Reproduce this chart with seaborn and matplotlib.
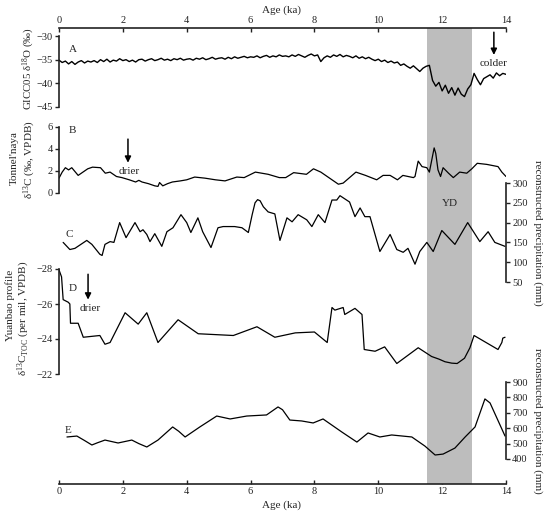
import matplotlib
matplotlib.use("Agg")
import matplotlib.pyplot as plt
import seaborn as sns

# A: GICC05 d18O (permil), 0.1 ka steps
age_a = [0.0, 0.1, 0.2, 0.3, 0.4, 0.5, 0.6, 0.7, 0.8, 0.9,
         1.0, 1.1, 1.2, 1.3, 1.4, 1.5, 1.6, 1.7, 1.8, 1.9,
         2.0, 2.1, 2.2, 2.3, 2.4, 2.5, 2.6, 2.7, 2.8, 2.9,
         3.0, 3.1, 3.2, 3.3, 3.4, 3.5, 3.6, 3.7, 3.8, 3.9,
         4.0, 4.1, 4.2, 4.3, 4.4, 4.5, 4.6, 4.7, 4.8, 4.9,
         5.0, 5.1, 5.2, 5.3, 5.4, 5.5, 5.6, 5.7, 5.8, 5.9,
         6.0, 6.1, 6.2, 6.3, 6.4, 6.5, 6.6, 6.7, 6.8, 6.9,
         7.0, 7.1, 7.2, 7.3, 7.4, 7.5, 7.6, 7.7, 7.8, 7.9,
         8.0, 8.1, 8.2, 8.3, 8.4, 8.5, 8.6, 8.7, 8.8, 8.9,
         9.0, 9.1, 9.2, 9.3, 9.4, 9.5, 9.6, 9.7, 9.8, 9.9,
         10.0, 10.1, 10.2, 10.3, 10.4, 10.5, 10.6, 10.7, 10.8, 10.9,
         11.0, 11.1, 11.2, 11.3, 11.4, 11.5, 11.6, 11.7, 11.8, 11.9,
         12.0, 12.1, 12.2, 12.3, 12.4, 12.5, 12.6, 12.7, 12.8, 12.9,
         13.0, 13.1, 13.2, 13.3, 13.4, 13.5, 13.6, 13.7, 13.8, 13.9, 14.0]
d18o_a = [-35.1, -35.6, -35.3, -35.9, -35.4, -36.0, -35.5, -35.2, -35.7, -35.3,
          -35.5, -35.2, -35.6, -35.0, -35.4, -34.9, -35.5, -35.1, -35.3, -34.8,
          -35.2, -35.0, -35.4, -35.1, -35.5, -35.0, -34.9, -35.3, -35.0, -34.8,
          -35.2, -35.0, -34.7, -35.1, -34.9, -35.2, -34.8, -35.0, -34.7, -35.1,
          -34.9, -34.8, -35.1, -34.7, -34.9, -34.6, -35.0, -34.8, -34.5, -34.9,
          -34.7, -34.6, -34.9, -34.5, -34.8, -34.4, -34.7, -34.5, -34.3, -34.6,
          -34.4, -34.5, -34.2, -34.6, -34.3, -34.1, -34.5, -34.2, -34.4, -34.0,
          -34.3, -34.2, -34.4, -34.0, -34.3, -33.9, -34.2, -34.5, -34.1, -33.8,
          -34.2, -34.0, -35.4, -34.6, -34.2, -34.5, -34.0, -34.3, -33.9, -34.4,
          -34.1, -34.3, -34.6, -34.2, -34.7, -34.4, -34.8, -34.5, -34.9, -35.2,
          -34.9, -35.4, -35.1, -35.6, -35.3, -35.7, -35.5, -36.2, -35.9, -36.4,
          -36.8, -36.3, -36.9, -37.5, -36.8, -36.4, -36.2, -39.4, -40.6, -39.8,
          -41.6, -40.4, -42.1, -40.9, -42.5, -41.0, -42.3, -42.8, -41.2, -40.3,
          -37.9, -39.2, -40.3, -39.0, -38.6, -38.2, -38.9, -37.8, -38.4, -37.9, -38.1]

# B: Tonnel'naya d13C
age_b = [0.0, 0.1, 0.2, 0.3, 0.4, 0.6, 0.9, 1.05, 1.3, 1.45, 1.6, 1.8, 1.97,
         2.2, 2.4, 2.5, 2.6, 2.8, 3.0, 3.1, 3.15, 3.25, 3.4, 3.55, 3.8, 4.0,
         4.25, 4.57, 4.9, 5.2, 5.57, 5.8, 6.15, 6.35, 6.55, 6.9, 7.1, 7.35,
         7.75, 7.97, 8.2, 8.5, 8.75, 8.9, 9.3, 9.6, 9.95, 10.15, 10.37, 10.6,
         10.77, 11.1, 11.15, 11.25, 11.37, 11.52, 11.6, 11.75, 11.8, 11.87,
         11.95, 12.03, 12.2, 12.35, 12.55, 12.77, 12.93, 13.1, 13.4, 13.75,
         13.87, 14.0]
d13c_b = [1.35, 1.9, 2.3, 2.1, 2.3, 1.6, 2.2, 2.35, 2.3, 1.8, 1.9, 1.5, 1.4,
          1.2, 1.0, 1.15, 1.0, 0.85, 0.65, 0.6, 0.95, 0.65, 0.85, 1.0, 1.1, 1.2,
          1.45, 1.35, 1.2, 1.1, 1.45, 1.4, 1.9, 1.8, 1.7, 1.4, 1.4, 1.85,
          1.7, 2.2, 1.9, 1.3, 0.8, 0.9, 1.9, 1.6, 1.2, 1.6, 1.6, 1.2,
          1.6, 1.4, 1.5, 2.9, 2.4, 2.3, 1.9, 4.1, 3.6, 2.1,
          1.5, 2.3, 1.8, 1.4, 1.9, 1.8, 2.2, 2.7, 2.6, 2.4,
          1.9, 1.5]

# C: reconstructed precipitation (mm)
age_c = [0.13, 0.34, 0.5, 0.87, 1.03, 1.28, 1.35, 1.44, 1.6, 1.72, 1.9, 2.1,
         2.38, 2.54, 2.63, 2.75, 2.85, 3.0, 3.22, 3.38, 3.57, 3.82, 4.0, 4.13,
         4.35, 4.5, 4.76, 4.98, 5.14, 5.5, 5.73, 5.93, 6.05, 6.14, 6.22, 6.3,
         6.4, 6.55, 6.76, 6.92, 7.14, 7.3, 7.49, 7.76, 7.92, 8.12, 8.33, 8.55,
         8.7, 8.8, 9.1, 9.27, 9.43, 9.58, 9.74, 10.05, 10.37, 10.58, 10.78,
         10.93, 11.15, 11.3, 11.52, 11.72, 11.99, 12.4, 12.8, 13.18, 13.44,
         13.65, 13.97]
prec_c = [150, 132, 135, 155, 145, 120, 117, 145, 152, 150, 200, 162,
          200, 177, 182, 170, 152, 172, 140, 177, 187, 220, 200, 175,
          212, 177, 137, 187, 190, 190, 187, 175, 220, 250, 258, 255,
          240, 227, 222, 155, 212, 202, 220, 207, 190, 220, 200, 257,
          257, 268, 252, 215, 237, 215, 215, 127, 170, 132, 125,
          135, 95, 127, 150, 127, 180, 145, 200, 152, 177,
          150, 140]

# D: Yuanbao profile d13C TOC
age_d = [0.0, 0.08, 0.13, 0.29, 0.34, 0.36, 0.6, 0.76, 1.28, 1.44, 1.6,
         2.07, 2.48, 2.75, 3.1, 3.73, 4.36, 5.46, 6.2, 6.76, 7.4, 8.0, 8.4,
         8.55, 8.64, 8.9, 8.95, 9.27, 9.49, 9.56, 9.9, 10.2, 10.58, 11.25,
         11.67, 11.9, 12.09, 12.3, 12.47, 12.7, 12.87, 13.0, 13.75, 13.87,
         13.9, 13.97]
d13c_d = [-27.95, -27.55, -26.25, -26.1, -26.0, -24.9, -24.9, -24.1, -24.2, -23.7, -23.8,
          -25.5, -24.85, -25.5, -23.8, -25.1, -24.3, -24.2, -24.7, -24.1, -24.35, -24.4, -23.8,
          -25.8, -25.65, -25.8, -25.4, -25.75, -25.4, -23.4, -23.3, -23.55, -22.6, -23.5,
          -23.0, -22.85, -22.7, -22.62, -22.6, -22.9, -23.5, -24.2, -23.4, -23.8,
          -24.05, -24.1]

# E: reconstructed precipitation (mm)
age_e = [0.25, 0.56, 0.8, 1.03, 1.2, 1.44, 1.85, 2.28, 2.5, 2.75, 3.1, 3.56,
         3.75, 3.95, 4.41, 4.94, 5.36, 5.88, 6.5, 6.86, 7.0, 7.23, 7.6, 7.96,
         8.27, 8.86, 9.33, 9.68, 10.05, 10.42, 11.05, 11.46, 11.78, 12.03,
         12.4, 12.72, 13.03, 13.34, 13.5, 13.97]
prec_e = [543, 549, 520, 491, 505, 523, 504, 523, 500, 478, 523, 608,
          580, 543, 608, 679, 660, 679, 686, 738, 720, 653, 647, 634,
          660, 575, 510, 569, 543, 556, 543, 484, 426, 432,
          471, 543, 608, 790, 764, 549]

age_ticks = [0, 2, 4, 6, 8, 10, 12, 14]
yd_start, yd_end = 11.52, 12.93

sns.set_style("ticks")
plt.rcParams['font.family'] = ['Liberation Serif', 'DejaVu Serif']
plt.rcParams['mathtext.fontset'] = 'custom'
plt.rcParams['mathtext.rm'] = 'Liberation Serif'
plt.rcParams['mathtext.it'] = 'Liberation Serif:italic'
plt.rcParams['font.size'] = 8

W, H = 550, 515
INK = '#222222'
TICK_FS = 7.5
fig = plt.figure(figsize=(W / 100, H / 100), dpi=100)


def box(top_px, bot_px):
    return [59 / W, 1 - bot_px / H, 447 / W, (bot_px - top_px) / H]


# frame with the two age axes and the YD band
ax0 = fig.add_axes(box(28, 484))
ax0.set_facecolor('none')
ax0.axvspan(yd_start, yd_end, color='#bdbdbd', lw=0)
ax0.set_xlim(0, 14)
ax0.set_ylim(0, 1)
ax0.set_yticks([])
ax0.set_xticks(age_ticks)
ax0.spines['left'].set_visible(False)
ax0.spines['right'].set_visible(False)
for s in ['top', 'bottom']:
    ax0.spines[s].set_linewidth(1.2)
    ax0.spines[s].set_color(INK)
ax0.tick_params(axis='x', direction='in', top=True, bottom=True,
                labeltop=True, labelbottom=True, length=3, width=1,
                pad=2, labelsize=TICK_FS, colors=INK)
ax0.text(12.25, 0.615, 'YD', ha='center', va='center', fontsize=8)
fig.text(281 / W, 1 - 10 / H, 'Age (ka)', ha='center', va='center', fontsize=8)
fig.text(281 / W, 1 - 505 / H, 'Age (ka)', ha='center', va='center', fontsize=8)


def panel(top_px, bot_px, side, ylim, ticks):
    ax = fig.add_axes(box(top_px, bot_px))
    ax.set_facecolor('none')
    for s in ['top', 'bottom', 'left', 'right']:
        ax.spines[s].set_visible(s == side)
    ax.spines[side].set_linewidth(1.2)
    ax.spines[side].set_color(INK)
    ax.set_xticks([])
    ax.yaxis.set_ticks_position(side)
    ax.tick_params(axis='y', direction='out', length=3, width=1, pad=1.5,
                   labelsize=TICK_FS, colors=INK)
    return ax, ylim, ticks


def finish(ax, ylim, ticks):
    ax.set_xlim(0, 14)
    ax.set_ylim(*ylim)
    ax.set_yticks(ticks)
    ax.set_xlabel('')
    ax.set_ylabel('')


arrow_style = dict(arrowstyle='-|>', color='black', lw=1.1,
                   mutation_scale=9, shrinkA=0, shrinkB=0)

# A
axA, limA, tA = panel(36, 107, 'left', (-45, -30), [-45, -40, -35, -30])
sns.lineplot(x=age_a, y=d18o_a, ax=axA, color='black', lw=1.0, sort=False, estimator=None)
finish(axA, limA, tA)
axA.text(0.3, -32.95, 'A', ha='left', va='center', fontsize=8)
axA.annotate('', xy=(13.62, -34.0), xytext=(13.62, -29.2), annotation_clip=False,
             arrowprops=arrow_style)
axA.text(13.6, -35.9, 'colder', ha='center', va='center', fontsize=8)

# B
axB, limB, tB = panel(127, 193, 'left', (0, 6), [0, 2, 4, 6])
sns.lineplot(x=age_b, y=d13c_b, ax=axB, color='black', lw=0.9, sort=False, estimator=None)
finish(axB, limB, tB)
axB.text(0.3, 5.7, 'B', ha='left', va='center', fontsize=8)
axB.annotate('', xy=(2.16, 2.75), xytext=(2.16, 4.9), arrowprops=arrow_style)
axB.text(2.19, 1.95, 'drier', ha='center', va='center', fontsize=8)

# C
axC, limC, tC = panel(183, 282, 'right', (50, 300), [50, 100, 150, 200, 250, 300])
sns.lineplot(x=age_c, y=prec_c, ax=axC, color='black', lw=0.9, sort=False, estimator=None)
finish(axC, limC, tC)
axC.text(0.2, 170, 'C', ha='left', va='center', fontsize=8)

# D (inverted)
axD, limD, tD = panel(269, 374, 'left', (-22, -28), [-28, -26, -24, -22])
sns.lineplot(x=age_d, y=d13c_d, ax=axD, color='black', lw=0.9, sort=False, estimator=None)
finish(axD, limD, tD)
axD.text(0.3, -26.9, 'D', ha='left', va='center', fontsize=8)
axD.annotate('', xy=(0.91, -26.25), xytext=(0.91, -27.7), arrowprops=arrow_style)
axD.text(0.97, -25.75, 'drier', ha='center', va='center', fontsize=8)

# E
axE, limE, tE = panel(382, 459, 'right', (400, 900), [400, 500, 600, 700, 800, 900])
sns.lineplot(x=age_e, y=prec_e, ax=axE, color='black', lw=0.9, sort=False, estimator=None)
finish(axE, limE, tE)
axE.text(0.18, 588, 'E', ha='left', va='center', fontsize=8)

# axis titles
fig.text(29 / W, 1 - 69 / H, 'GICC05 δ$^{18}$O (‰)', rotation=90,
         ha='center', va='center', fontsize=7.8)
fig.text(14 / W, 1 - 158 / H, "Tonnel'naya", rotation=90,
         ha='center', va='center', fontsize=8)
fig.text(30 / W, 1 - 160 / H, 'δ$^{13}$C (‰, VPDB)', rotation=90,
         ha='center', va='center', fontsize=8)
fig.text(10 / W, 1 - 305 / H, 'Yuanbao profile', rotation=90,
         ha='center', va='center', fontsize=8)
fig.text(24 / W, 1 - 318 / H, r'δ$^{13}$C$_{\mathrm{TOC}}$ (per mil, VPDB)', rotation=90,
         ha='center', va='center', fontsize=8)
fig.text(538 / W, 1 - 233 / H, 'reconstructed precipitation (mm)', rotation=-90,
         ha='center', va='center', fontsize=8)
fig.text(538 / W, 1 - 421 / H, 'reconstructed precipitation (mm)', rotation=-90,
         ha='center', va='center', fontsize=8)

fig.savefig('out.png', dpi=100)
